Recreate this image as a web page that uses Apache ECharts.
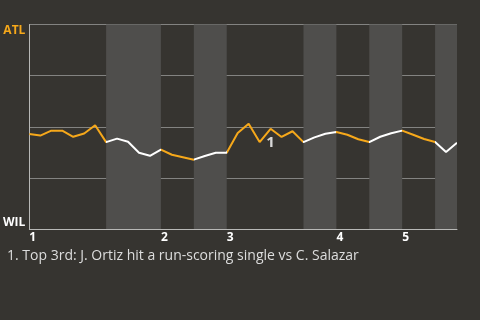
<!DOCTYPE html>
<html>
<head>
<meta charset="utf-8">
<script src="https://cdn.jsdelivr.net/npm/echarts@6/dist/echarts.min.js"></script>
<style>html,body{margin:0;padding:0;background:#363430;}#c{width:480px;height:320px;}</style>
</head>
<body>
<div id="c"></div>
<script>
// ATL win probability after each plate appearance (0 = WIL, 1 = ATL)
const winProb = [0.465,0.457,0.481,0.481,0.451,0.467,0.507,0.425,0.442,0.427,
  0.373,0.358,0.388,0.363,0.351,0.339,0.357,0.373,0.373,0.469,
  0.515,0.425,0.490,0.450,0.478,0.425,0.448,0.466,0.474,0.461,
  0.439,0.425,0.451,0.468,0.481,0.461,0.440,0.425,0.377,0.422];
// half-inning boundaries (plate appearance index)
const halfInnings = [0,7,12,15,18,25,28,31,34,37,39];
const inningStarts = [0,12,18,28,34];
const inningLabels = ['1','2','3','4','5'];
const teamLabels = ['WIL','ATL'];
const eventIndex = [22];
const eventLabels = ['1'];
const eventTexts = ['1. Top 3rd: J. Ortiz hit a run-scoring single vs C. Salazar'];

const ORANGE = '#f6a81a', WHITE = '#ffffff';
const pieces = [], bands = [];
for (let i = 0; i < halfInnings.length - 1; i++) {
  const p = {gte: halfInnings[i], color: i % 2 === 0 ? ORANGE : WHITE};
  if (i === halfInnings.length - 2) p.lte = halfInnings[i+1]; else p.lt = halfInnings[i+1];
  pieces.push(p);
  if (i % 2 === 1) bands.push([{xAxis: halfInnings[i]}, {xAxis: halfInnings[i+1]}]);
}
const data = winProb.map((v, i) => [i, v]);

const chart = echarts.init(document.getElementById('c'));
chart.setOption({
  backgroundColor: '#363430',
  animation: false,
  title: {
    text: eventTexts.join('\n'), left: 2, top: 244,
    textStyle: {color: '#dddddd', fontSize: 14, fontWeight: 'normal', fontFamily: 'Open Sans'}
  },
  grid: {left: 27, right: 23, top: 24.5, bottom: 91, containLabel: false},
  xAxis: {
    type: 'value', min: 0, max: halfInnings[halfInnings.length-1],
    axisLine: {show: true, lineStyle: {color: '#b8b8b6', width: 1}},
    axisTick: {show: false},
    splitLine: {show: false},
    axisLabel: {
      customValues: inningStarts, align: 'left', margin: 3,
      color: '#ffffff', fontWeight: 'bold', fontSize: 12, fontFamily: 'Open Sans',
      formatter: v => inningLabels[inningStarts.indexOf(v)]
    }
  },
  yAxis: {
    type: 'value', min: 0, max: 1, interval: 0.25,
    axisLine: {show: true, lineStyle: {color: '#b8b8b6', width: 1}},
    axisTick: {show: false},
    splitLine: {show: true, lineStyle: {color: '#838381', width: 1}},
    axisLabel: {
      margin: 4, fontSize: 12, fontWeight: 'bold', fontFamily: 'Open Sans',
      formatter: v => v === 1 ? '{sp| }\n{atl|' + teamLabels[1] + '}' : (v === 0 ? '{wil|' + teamLabels[0] + '}\n{sp| }' : ''),
      rich: {
        sp: {lineHeight: 13, fontSize: 12},
        atl: {color: ORANGE, lineHeight: 13, fontSize: 12, fontWeight: 'bold', fontFamily: 'Open Sans'},
        wil: {color: '#ffffff', lineHeight: 13, fontSize: 12, fontWeight: 'bold', fontFamily: 'Open Sans'}
      }
    }
  },
  visualMap: {type: 'piecewise', show: false, dimension: 0, seriesIndex: 0, pieces: pieces},
  series: [
    {
      type: 'line', data: data, symbol: 'none', lineStyle: {width: 2}, z: 3,
      markPoint: {
        symbol: 'circle', symbolSize: 0,
        data: eventIndex.map((idx, k) => ({coord: [idx, winProb[idx]], value: eventLabels[k]})),
        label: {show: true, position: 'inside', offset: [0, 14], formatter: '{c}',
          color: '#d8d8d8', fontSize: 15, fontWeight: 'bold', fontFamily: 'Open Sans'}
      }
    },
    {
      type: 'line', data: [], z: -1, silent: true,
      markArea: {silent: true, itemStyle: {color: '#4f4e4c', opacity: 1}, data: bands}
    }
  ]
});
</script>
</body>
</html>
